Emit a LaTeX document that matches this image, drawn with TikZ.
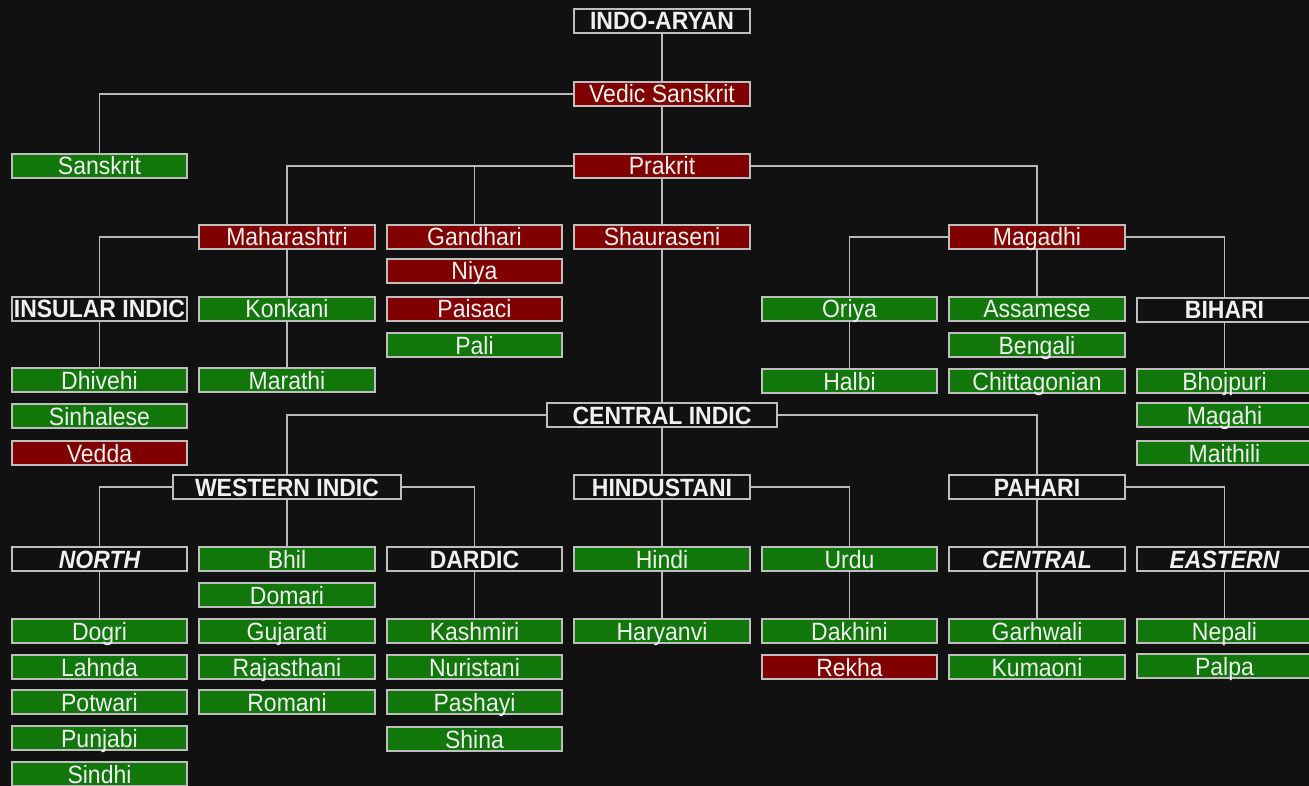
\documentclass[tikz,border=0pt]{standalone}
\usepackage{fontspec}
\setmainfont[FakeStretch=0.92]{Liberation Sans}
\definecolor{bgc}{RGB}{17,17,17}
\definecolor{grn}{RGB}{17,119,10}
\definecolor{redc}{RGB}{128,0,0}
\definecolor{bordc}{RGB}{190,190,190}
\definecolor{linec}{RGB}{185,185,185}
\definecolor{txtc}{RGB}{240,240,240}
\begin{document}
\begin{tikzpicture}[x=1pt,y=-1pt,
  box/.style={draw=bordc, line width=1.6pt, minimum width=175.5pt, minimum height=24.5pt, inner sep=0pt, text height=18pt, text depth=0pt, text=txtc, font=\fontsize{25}{26}\selectfont},
  g/.style={box, fill=grn},
  r/.style={box, fill=redc},
  h/.style={box, fill=bgc, font=\fontsize{25}{26}\selectfont\bfseries},
  it/.style={box, fill=bgc, font=\fontsize{25}{26}\selectfont\bfseries\itshape},
  conn/.style={draw=linec, line width=1.6pt}]
\fill[bgc] (0,0) rectangle (1309,786);
\clip (0,0) rectangle (1309,786);
\useasboundingbox (0,0) rectangle (1309,786);
\def\ca{99.5}\def\cb{287}\def\cc{474.5}\def\cd{662}\def\ce{849.5}\def\cf{1037}\def\cg{1224.5}
% nodes
\node[h] (ia) at (\cd,21) {INDO-ARYAN};
\node[r] (vs) at (\cd,94) {Vedic Sanskrit};
\node[g] (sk) at (\ca,166) {Sanskrit};
\node[r] (pk) at (\cd,166) {Prakrit};
\node[r] (mh) at (\cb,237) {Maharashtri};
\node[r] (gd) at (\cc,237) {Gandhari};
\node[r] (sh) at (\cd,237) {Shauraseni};
\node[r] (mg) at (\cf,237) {Magadhi};
\node[r] (ny) at (\cc,271) {Niya};
\node[h] (ins) at (\ca,309) {INSULAR INDIC};
\node[g] (kk) at (\cb,309) {Konkani};
\node[r] (ps) at (\cc,309) {Paisaci};
\node[g] (or) at (\ce,309) {Oriya};
\node[g] (as) at (\cf,309) {Assamese};
\node[h] (bi) at (\cg,310) {BIHARI};
\node[g] (pl) at (\cc,345) {Pali};
\node[g] (bn) at (\cf,345) {Bengali};
\node[g] (dv) at (\ca,380) {Dhivehi};
\node[g] (mr) at (\cb,380) {Marathi};
\node[g] (hb) at (\ce,381) {Halbi};
\node[g] (ch) at (\cf,381) {Chittagonian};
\node[g] (bh) at (\cg,381) {Bhojpuri};
\node[g] (si) at (\ca,416) {Sinhalese};
\node[h, minimum width=229.5pt] (ci) at (\cd,415) {CENTRAL INDIC};
\node[g] (mgh) at (\cg,415) {Magahi};
\node[r] (vd) at (\ca,453) {Vedda};
\node[g] (mt) at (\cg,453) {Maithili};
\node[h, minimum width=228.5pt] (wi) at (\cb,487) {WESTERN INDIC};
\node[h] (hi) at (\cd,487) {HINDUSTANI};
\node[h] (ph) at (\cf,487) {PAHARI};
\node[it] (no) at (\ca,559) {NORTH};
\node[g] (bl) at (\cb,559) {Bhil};
\node[h] (dd) at (\cc,559) {DARDIC};
\node[g] (hn) at (\cd,559) {Hindi};
\node[g] (ur) at (\ce,559) {Urdu};
\node[it] (ce) at (\cf,559) {CENTRAL};
\node[it] (ea) at (\cg,559) {EASTERN};
\node[g] (dm) at (\cb,595) {Domari};
\node[g] (dg) at (\ca,631) {Dogri};
\node[g] (gj) at (\cb,631) {Gujarati};
\node[g] (ks) at (\cc,631) {Kashmiri};
\node[g] (hy) at (\cd,631) {Haryanvi};
\node[g] (dk) at (\ce,631) {Dakhini};
\node[g] (gw) at (\cf,631) {Garhwali};
\node[g] (np) at (\cg,631) {Nepali};
\node[g] (lh) at (\ca,667) {Lahnda};
\node[g] (rj) at (\cb,667) {Rajasthani};
\node[g] (nu) at (\cc,667) {Nuristani};
\node[r] (rk) at (\ce,667) {Rekha};
\node[g] (km) at (\cf,667) {Kumaoni};
\node[g] (pp) at (\cg,666) {Palpa};
\node[g] (pt) at (\ca,702) {Potwari};
\node[g] (rm) at (\cb,702) {Romani};
\node[g] (py) at (\cc,702) {Pashayi};
\node[g] (pj) at (\ca,738) {Punjabi};
\node[g] (sn) at (\cc,739) {Shina};
\node[g] (sd) at (\ca,774) {Sindhi};
% connectors
\draw[conn] (ia.south) -- (vs.north);
\draw[conn] (vs.west) -| (sk.north);
\draw[conn] (vs.south) -- (pk.north);
\draw[conn] (pk.west) -| (mh.north);
\draw[conn] (pk.west) -| (gd.north);
\draw[conn] (pk.south) -- (sh.north);
\draw[conn] (pk.east) -| (mg.north);
\draw[conn] (mh.west) -| (ins.north);
\draw[conn] (mh.south) -- (kk.north);
\draw[conn] (kk.south) -- (mr.north);
\draw[conn] (ins.south) -- (dv.north);
\draw[conn] (sh.south) -- (ci.north);
\draw[conn] (mg.west) -| (or.north);
\draw[conn] (or.south) -- (hb.north);
\draw[conn] (mg.south) -- (as.north);
\draw[conn] (mg.east) -| (bi.north);
\draw[conn] (bi.south) -- (bh.north);
\draw[conn] (ci.west) -| (wi.north);
\draw[conn] (ci.south) -- (hi.north);
\draw[conn] (ci.east) -| (ph.north);
\draw[conn] (wi.west) -| (no.north);
\draw[conn] (wi.south) -- (bl.north);
\draw[conn] (wi.east) -| (dd.north);
\draw[conn] (no.south) -- (dg.north);
\draw[conn] (dd.south) -- (ks.north);
\draw[conn] (hi.south) -- (hn.north);
\draw[conn] (hn.south) -- (hy.north);
\draw[conn] (hi.east) -| (ur.north);
\draw[conn] (ur.south) -- (dk.north);
\draw[conn] (ph.south) -- (ce.north);
\draw[conn] (ce.south) -- (gw.north);
\draw[conn] (ph.east) -| (ea.north);
\draw[conn] (ea.south) -- (np.north);
\end{tikzpicture}
\end{document}
